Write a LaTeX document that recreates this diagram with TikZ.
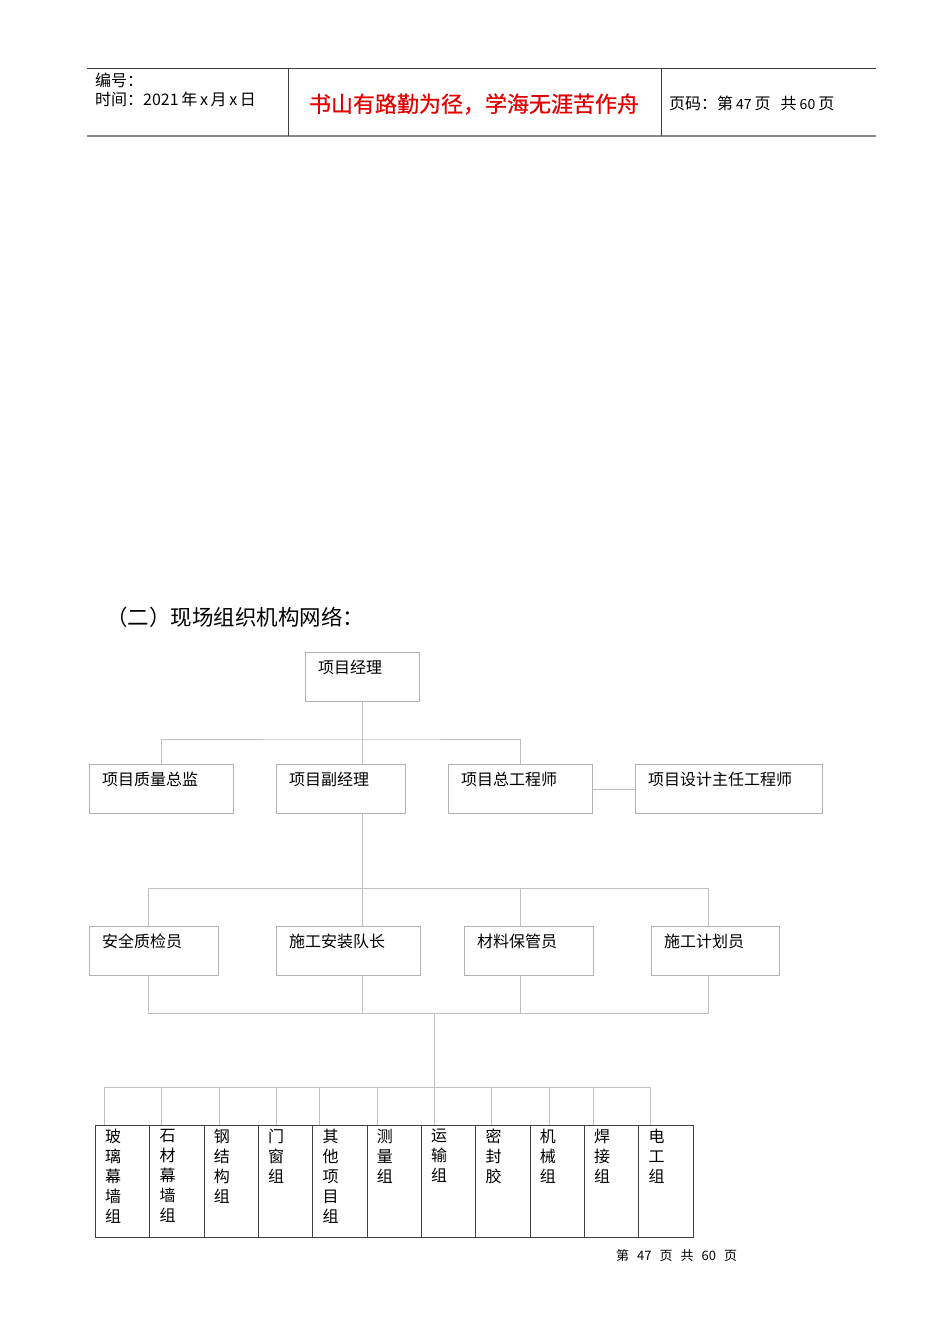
\documentclass[tikz,border=0pt]{standalone}
\usepackage{fontspec}
\setmainfont{Noto Sans CJK SC}
\newfontfamily\mottofont[FakeBold=0.7]{Noto Sans CJK SC}
\definecolor{linegray}{RGB}{192,192,192}
\definecolor{boxgray}{RGB}{178,178,178}
\definecolor{tabgray}{RGB}{64,64,64}
\definecolor{mottored}{RGB}{228,0,0}
\tikzset{
    wire/.style={draw=linegray, line width=0.9},
    tag/.style={anchor=north west, inner sep=0pt, xshift=13, yshift=-8, font=\fontsize{16}{19}\selectfont},
    post/.style={draw=boxgray, line width=0.9, minimum height=49, inner sep=0pt, anchor=north west, label={[tag]north west:#1}},
    cell/.style={anchor=north west, inner sep=0pt, xshift=10, yshift=-4, align=left, font=\fontsize{16}{20}\selectfont},
    team/.style={draw=tabgray, line width=1, minimum width=54.33, minimum height=112, inner sep=0pt, anchor=north west},
    hdr/.style={anchor=west, inner sep=0pt, font=\fontsize{16}{16}\selectfont}
}

\begin{document}
\begin{tikzpicture}[x=1pt, y=-1pt]
    \fill[white] (0,0) rectangle (950,1344);
    \useasboundingbox (0,0) rectangle (950,1344);

    \draw[draw=tabgray, line width=0.9] (87,68) -- (876,68);
    \draw[draw=black!45, line width=1.8] (87,136) -- (876,136);
    \draw[draw=tabgray, line width=0.9] (288,68) -- (288,136) (661,68) -- (661,136);
    \node[hdr] (code) at (95,80) {编号：};
    \node[hdr] (date) at (95,99) {时间：2021\,年\,x\,月\,x\,日};
    \node[inner sep=0pt, text=mottored, font=\fontsize{22}{22}\mottofont] (motto) at (474,104) {书山有路勤为径，学海无涯苦作舟};
    \node[hdr] (page) at (669,103) {页码：第\hspace{3pt}{\fontsize{14}{14}\selectfont 47}\hspace{3pt}页\hspace{10pt}共\hspace{3pt}{\fontsize{14}{14}\selectfont 60}\hspace{3pt}页};

    \node[anchor=west, inner sep=0pt, font=\fontsize{21.5}{21.5}\selectfont] (title) at (106,617) {（二）现场组织机构网络：};

    \node[post=项目经理, minimum width=114] (pm) at (305,652) {};
    \node[post=项目质量总监, minimum width=144] (qc) at (89,764) {};
    \node[post=项目副经理, minimum width=129] (dpm) at (276,764) {};
    \node[post=项目总工程师, minimum width=144] (cheng) at (448,764) {};
    \node[post=项目设计主任工程师, minimum width=187] (design) at (635,764) {};
    \node[post=安全质检员, minimum width=129] (safety) at (89,926) {};
    \node[post=施工安装队长, minimum width=144] (crew) at (276,926) {};
    \node[post=材料保管员, minimum width=129] (store) at (464,926) {};
    \node[post=施工计划员, minimum width=128] (plan) at (651,926) {};

    \coordinate (b1) at (362,739);
    \coordinate (b2w) at (148,888);
    \coordinate (b2m) at (520,888);
    \coordinate (b2e) at (708,888);
    \coordinate (b3w) at (148,1013);
    \coordinate (b3e) at (708,1013);

    \draw[wire] (pm.south) -- (pm.south |- dpm.north);
    \draw[wire] (qc.north) |- (b1) -| (cheng.north);
    \draw[wire] (cheng.east) -- (design.west);
    \draw[wire] (pm.south |- dpm.south) -- (pm.south |- crew.north);
    \draw[wire] (b2w |- safety.north) -- (b2w) -- (b2e) -- (b2e |- plan.north);
    \draw[wire] (b2m) -- (b2m |- store.north);
    \draw[wire] (b2w |- safety.south) -- (b3w) -- (b3e) -- (b2e |- plan.south);
    \draw[wire] (b2m |- store.south) -- (b2m |- b3w);
    \draw[wire] (pm.south |- crew.south) -- (pm.south |- b3w);

    \foreach \name [count=\i from 0] in {玻\\璃\\幕\\墙\\组, 石\\材\\幕\\墙\\组, 钢\\结\\构\\组, 门\\窗\\组, 其\\他\\项\\目\\组, 测\\量\\组, 运\\输\\组, 密\\封\\胶, 机\\械\\组, 焊\\接\\组, 电\\工\\组}
        \node[team, label={[cell]north west:\name}] (t\i) at ({95+54.33*\i},1125) {};

    \foreach \x [count=\i] in {104,161.5,219,276.5,319.5,377,434.5,491.5,549.5,593,650} {
        \coordinate (d\i) at (\x,1087);
        \draw[wire] (d\i) -- (d\i |- t0.north);
    }
    \draw[wire] (d1) -- (d11);
    \draw[wire] (d7 |- b3w) -- (d7);

    \node[anchor=west, inner sep=0pt, font=\fontsize{13}{13}\selectfont] (foot) at (616,1256) {第\hspace{8pt}47\hspace{8pt}页\hspace{8pt}共\hspace{8pt}60\hspace{8pt}页};
\end{tikzpicture}
\end{document}
